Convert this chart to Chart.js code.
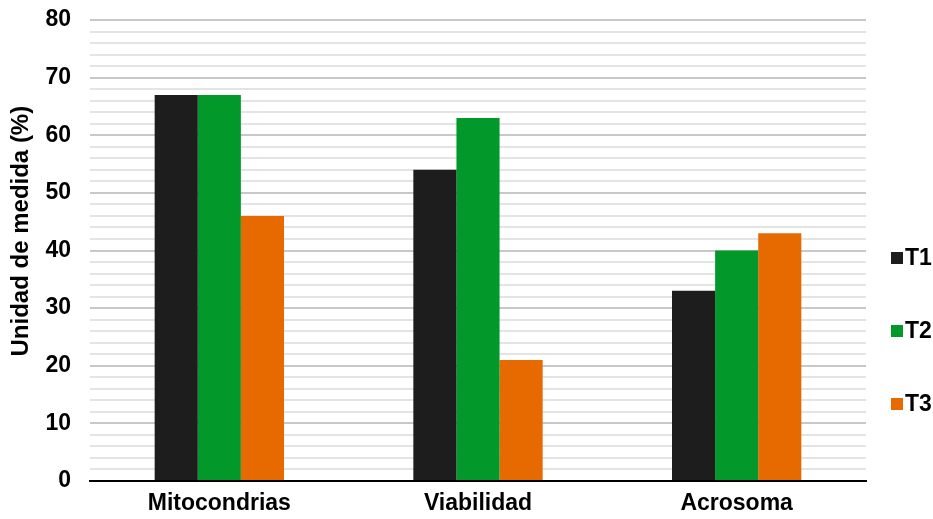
<!DOCTYPE html>
<html>
<head>
<meta charset="utf-8">
<script src="https://cdn.jsdelivr.net/npm/chart.js@4"></script>
<style>
  html, body { margin: 0; padding: 0; background: #ffffff; }
  #wrap { width: 933px; height: 519px; position: relative; }
</style>
</head>
<body>
<div id="wrap"><canvas id="c" width="933" height="519"></canvas></div>
<script>
const categories = ['Mitocondrias', 'Viabilidad', 'Acrosoma'];
const seriesNames = ['T1', 'T2', 'T3'];
const t1Values = [67, 54, 33];
const t2Values = [67, 63, 40];
const t3Values = [46, 21, 43];
const yTickLabels = [0, 10, 20, 30, 40, 50, 60, 70, 80];
const yTitle = 'Unidad de medida (%)';
const seriesColors = ['#1d1d1d', '#03992a', '#e76a00'];

const FONT = "'Liberation Sans', Arial, Helvetica, sans-serif";

const customDecor = {
  id: 'customDecor',
  afterDraw(chart) {
    const ctx = chart.ctx;
    const area = chart.chartArea;
    ctx.save();
    // y-axis title
    ctx.font = 'bold 24px ' + FONT;
    ctx.fillStyle = '#000';
    ctx.textAlign = 'center';
    ctx.textBaseline = 'middle';
    ctx.translate(21, area.top + (area.bottom - area.top) * 0.458);
    ctx.rotate(-Math.PI / 2);
    ctx.fillText(yTitle, 0, 0);
    ctx.restore();
    // legend
    ctx.save();
    ctx.font = 'bold 23px ' + FONT;
    ctx.textAlign = 'left';
    ctx.textBaseline = 'middle';
    chart.data.datasets.forEach((ds, i) => {
      const cy = area.top + 238 + i * 73;
      const bx = area.right + 25;
      ctx.fillStyle = ds.backgroundColor;
      ctx.fillRect(bx, cy - 6, 12, 12);
      ctx.fillStyle = '#000';
      ctx.fillText(ds.label, bx + 14, cy + 1);
    });
    ctx.restore();
  }
};

const valueLists = [t1Values, t2Values, t3Values];

new Chart(document.getElementById('c'), {
  type: 'bar',
  data: {
    labels: categories,
    datasets: seriesNames.map((name, i) => ({
      label: name,
      data: valueLists[i],
      backgroundColor: seriesColors[i],
      borderWidth: 0,
      categoryPercentage: 0.5,
      barPercentage: 1.0
    }))
  },
  options: {
    responsive: false,
    animation: false,
    devicePixelRatio: 1,
    layout: { padding: { top: 20, right: 67, bottom: 1, left: 0 } },
    plugins: {
      legend: { display: false },
      tooltip: { enabled: false },
      title: { display: false }
    },
    scales: {
      x: {
        afterFit(scale) { scale.height = 37; },
        grid: { display: false, drawTicks: false },
        border: { display: true, color: '#000', width: 2 },
        ticks: {
          padding: 9,
          color: '#000',
          font: { family: FONT, size: 23, weight: 'bold' }
        }
      },
      y: {
        min: 0,
        max: 80,
        afterFit(scale) {
          scale.width = 90;
          scale.paddingTop = 0;
          scale.paddingBottom = 0;
        },
        border: { display: false },
        grid: {
          drawTicks: false,
          lineWidth: 2,
          color: (c) => (c.tick && c.tick.value % 10 === 0) ? '#c8c8c8' : '#e4e4e4'
        },
        ticks: {
          stepSize: 2,
          autoSkip: false,
          padding: 19,
          color: '#000',
          font: { family: FONT, size: 23, weight: 'bold' },
          callback: (v) => yTickLabels.includes(v) ? String(v) : ''
        }
      }
    }
  },
  plugins: [customDecor]
});
</script>
</body>
</html>
